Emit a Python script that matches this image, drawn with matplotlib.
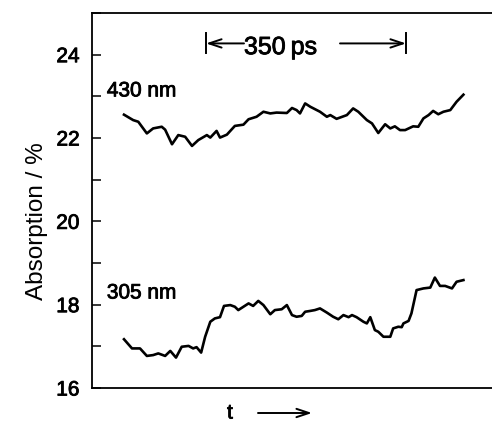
import matplotlib
matplotlib.use("Agg")
import matplotlib.pyplot as plt
from matplotlib.ticker import MultipleLocator
import matplotlib.patheffects as pe

plt.rcParams['font.family'] = ['Liberation Sans', 'DejaVu Sans']

# time axis (ps) and absorption (%) traces
t_430 = [56, 72, 81, 96, 107, 122, 128, 140, 151, 163, 175, 186, 201, 207, 218, 224,
         236, 250, 265, 274, 288, 300, 312, 323, 341, 350, 358, 364, 373, 382, 399,
         411, 417, 428, 446, 457, 466, 481, 490, 501, 513, 522, 530, 539, 548, 562,
         571, 580, 589, 597, 606, 615, 627, 638, 650]
a_430 = [22.56, 22.43, 22.39, 22.11, 22.23, 22.27, 22.20, 21.85, 22.07, 22.03, 21.81,
         21.95, 22.07, 22.01, 22.17, 22.01, 22.08, 22.29, 22.32, 22.45, 22.51, 22.63,
         22.59, 22.61, 22.60, 22.72, 22.67, 22.59, 22.83, 22.75, 22.63, 22.51, 22.55,
         22.46, 22.55, 22.71, 22.63, 22.43, 22.35, 22.12, 22.33, 22.23, 22.28, 22.19,
         22.19, 22.28, 22.27, 22.47, 22.55, 22.65, 22.57, 22.63, 22.67, 22.87, 23.04]

t_305 = [56, 70, 84, 96, 107, 116, 128, 137, 147, 157, 169, 177, 183, 191, 198, 207,
         215, 224, 231, 242, 250, 256, 265, 274, 282, 291, 300, 312, 320, 332, 341,
         350, 358, 367, 373, 382, 390, 399, 411, 422, 431, 440, 449, 455, 463, 475,
         481, 487, 495, 501, 510, 522, 527, 536, 542, 545, 554, 559, 568, 580, 592,
         600, 609, 618, 630, 638, 650]
a_305 = [17.17, 16.95, 16.95, 16.77, 16.79, 16.83, 16.77, 16.89, 16.73, 16.99, 17.01,
         16.95, 16.98, 16.85, 17.23, 17.59, 17.67, 17.70, 17.97, 17.99, 17.95, 17.87,
         17.95, 18.03, 17.97, 18.09, 17.99, 17.77, 17.87, 17.89, 17.99, 17.75, 17.71,
         17.73, 17.83, 17.85, 17.87, 17.91, 17.81, 17.71, 17.65, 17.75, 17.70, 17.75,
         17.70, 17.59, 17.55, 17.70, 17.39, 17.35, 17.23, 17.23, 17.43, 17.47, 17.46,
         17.55, 17.61, 17.79, 18.35, 18.39, 18.41, 18.65, 18.45, 18.45, 18.39, 18.55,
         18.59]

y_ticks = [16, 18, 20, 22, 24]
bar_start, bar_end = 199.5, 549.5  # 350 ps scale bar

thick = [pe.withStroke(linewidth=0.6, foreground='black')]

fig = plt.figure(figsize=(4.92, 4.26), dpi=100)
ax = fig.add_axes([92/492, 38/426, 400/492, 375/426])

ax.plot(t_430, a_430, color='black', lw=1.9, solid_joinstyle='round')
ax.plot(t_305, a_305, color='black', lw=1.9, solid_joinstyle='round')

ax.set_xlim(0, 700)
ax.set_ylim(16, 25)
ax.set_yticks(y_ticks)
ax.yaxis.set_minor_locator(MultipleLocator(1))
ax.set_xticks([])
ax.tick_params(axis='y', which='both', direction='in', length=6.5, width=1.1,
               pad=9, labelsize=15)
for lab in ax.get_yticklabels():
    lab.set_path_effects(thick)
ax.spines['right'].set_visible(False)
for s in ['left', 'top', 'bottom']:
    ax.spines[s].set_linewidth(1.3)

fig.text(37/492, 1 - 221/426, 'Absorption / %', fontsize=17.5, rotation=90,
         ha='center', va='center')

ax.text(26, 23.13, '430 nm', fontsize=15, va='center', ha='left', path_effects=thick)
ax.text(26, 18.28, '305 nm', fontsize=15, va='center', ha='left', path_effects=thick)

# scale bar
arrow_y = 24.27
ax.plot([bar_start, bar_start], [24.03, 24.51], color='black', lw=1.4)
ax.plot([bar_end, bar_end], [24.03, 24.51], color='black', lw=1.4)
ap = dict(arrowstyle='->,head_length=0.9,head_width=0.3', lw=1.4, color='black',
          shrinkA=0, shrinkB=0)
ax.annotate('', xy=(bar_start, arrow_y), xytext=(266, arrow_y), arrowprops=ap)
ax.annotate('', xy=(bar_end, arrow_y), xytext=(434, arrow_y), arrowprops=ap)
ax.text(330, 24.18, '350\u2009ps', fontsize=18, ha='center', va='center',
        path_effects=thick)

# time axis label
fig.text(230/492, 13/426, 't', fontsize=15, ha='center', va='center', path_effects=thick)
ax.annotate('', xy=(312, 13), xytext=(258, 13), xycoords='figure pixels',
            textcoords='figure pixels', arrowprops=ap)

fig.savefig('out.png', dpi=100)
